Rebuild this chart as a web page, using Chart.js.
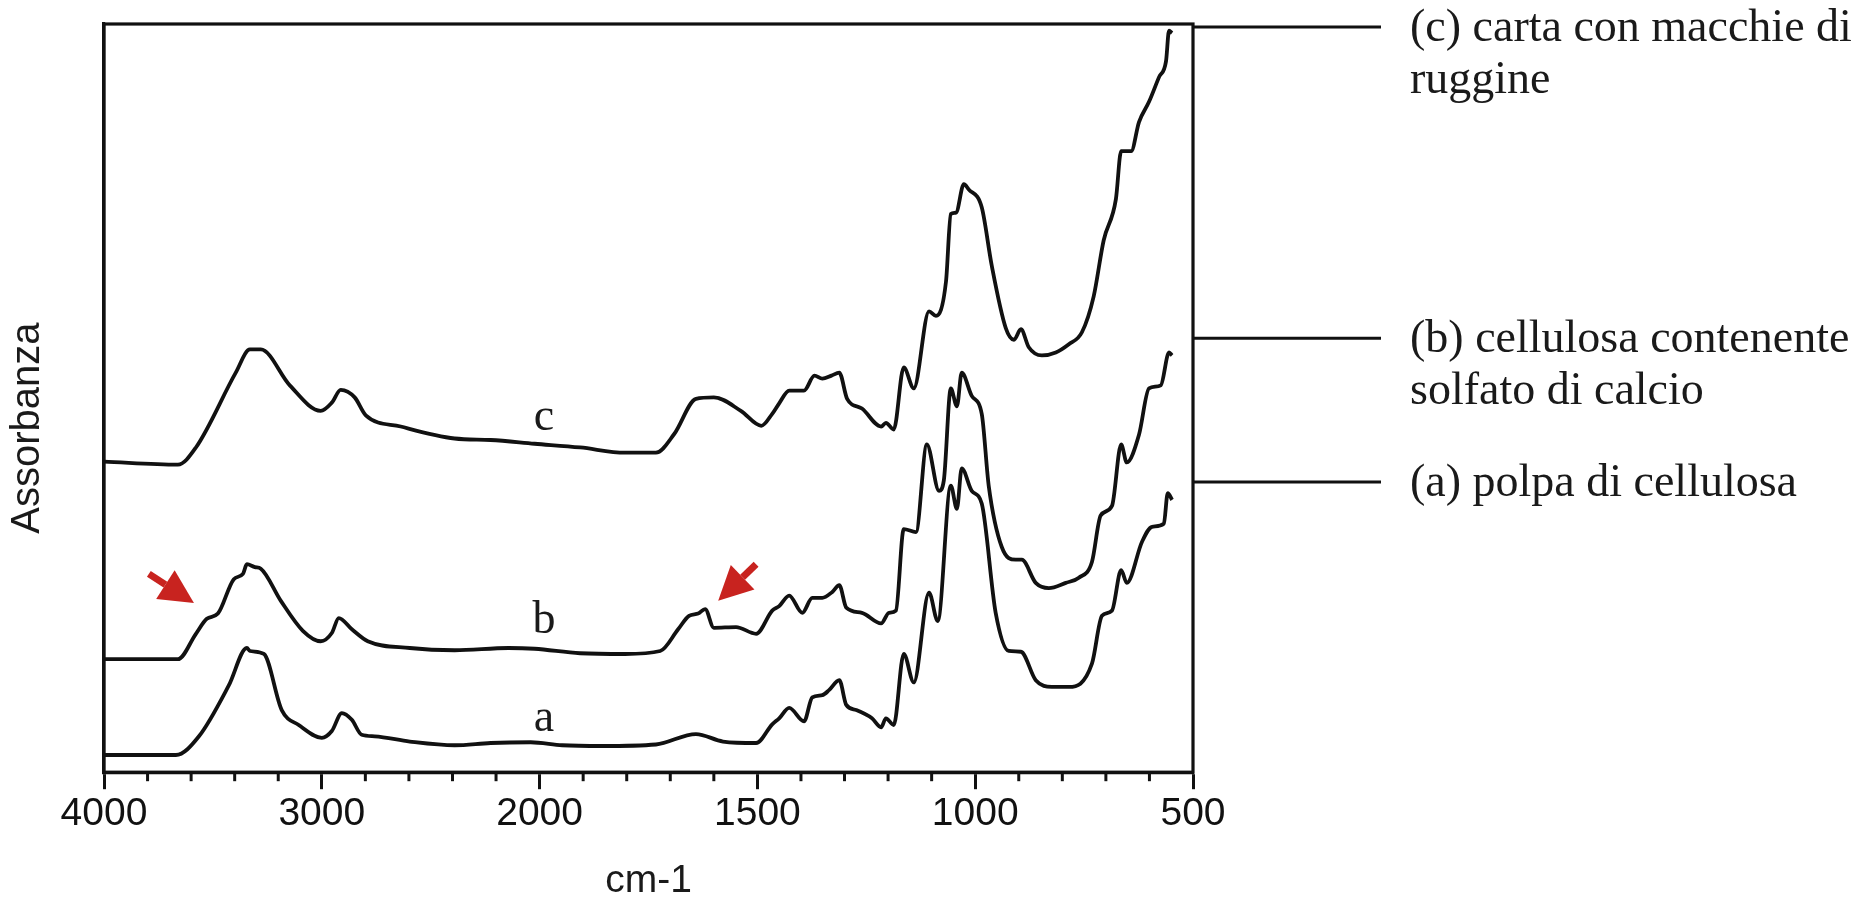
<!DOCTYPE html>
<html>
<head>
<meta charset="utf-8">
<script src="https://cdn.jsdelivr.net/npm/chart.js@4.4.1/dist/chart.umd.min.js"></script>
<style>
  html, body { margin: 0; padding: 0; background: #fff; }
</style>
</head>
<body>
<canvas id="spettri" width="1866" height="902"></canvas>
<script>
// spettri FTIR: numero d'onda (cm-1) e assorbanza (u.a., 0-100)
const numeriOnda_a = [4000, 3670, 3564, 3427, 3344, 3330, 3266, 3184, 3106, 3000, 2954, 2908, 2862, 2817, 2757, 2596, 2390, 2225, 2041, 1948, 1856, 1733, 1641, 1579, 1503, 1466, 1450, 1427, 1393, 1374, 1351, 1335, 1312, 1296, 1273, 1237, 1216, 1205, 1187, 1164, 1141, 1106, 1086, 1056, 1042, 1031, 1008, 985, 953, 923, 895, 861, 824, 785, 732, 709, 686, 665, 652, 617, 594, 567, 558, 548]
const assorbanza_a = [2.3, 2.3, 4.8, 11.6, 16.6, 16.2, 15.8, 8.3, 6.3, 4.6, 5.5, 7.9, 7.0, 5.0, 4.8, 4.1, 3.6, 3.9, 4.0, 3.6, 3.5, 3.7, 5.1, 4.1, 3.9, 6.4, 7.2, 8.6, 6.8, 10.0, 10.3, 11.0, 12.3, 9.0, 8.3, 7.2, 6.0, 7.2, 6.3, 15.8, 12.0, 24.0, 20.2, 38.3, 35.2, 40.6, 37.6, 35.9, 21.3, 16.2, 16.1, 12.3, 11.4, 11.4, 14.5, 20.9, 21.6, 27.0, 25.3, 30.8, 32.8, 33.2, 37.3, 36.4]

const numeriOnda_b = [4000, 3661, 3578, 3528, 3477, 3404, 3362, 3344, 3307, 3280, 3188, 3087, 3005, 2954, 2922, 2862, 2789, 2596, 2390, 2142, 2023, 1907, 1804, 1723, 1682, 1657, 1636, 1620, 1600, 1549, 1503, 1466, 1450, 1427, 1397, 1374, 1351, 1328, 1312, 1296, 1260, 1216, 1198, 1182, 1164, 1136, 1111, 1083, 1072, 1056, 1042, 1031, 1008, 985, 969, 939, 907, 893, 861, 831, 792, 762, 732, 712, 686, 665, 652, 624, 601, 574, 555, 548]
const assorbanza_b = [15.1, 15.1, 18.5, 20.5, 21.2, 25.8, 26.5, 27.8, 27.4, 27.2, 22.9, 18.9, 17.5, 18.6, 20.6, 19.1, 17.5, 16.6, 16.3, 16.6, 16.5, 15.9, 15.8, 16.2, 19.1, 20.9, 21.2, 21.8, 19.3, 19.4, 18.5, 21.6, 22.2, 23.6, 21.3, 23.3, 23.3, 24.1, 25.0, 22.0, 21.3, 19.9, 21.3, 21.6, 32.5, 32.1, 43.8, 37.6, 39.0, 51.3, 48.9, 53.4, 50.3, 47.9, 38.3, 30.1, 28.4, 28.4, 25.3, 24.6, 25.3, 26.0, 28.1, 34.3, 35.6, 43.8, 41.4, 45.1, 51.3, 51.7, 56.1, 55.7]

const numeriOnda_c = [4000, 3661, 3578, 3395, 3330, 3280, 3147, 3005, 2954, 2913, 2849, 2798, 2638, 2390, 2225, 2023, 1907, 1804, 1733, 1691, 1641, 1600, 1538, 1491, 1466, 1450, 1427, 1393, 1369, 1351, 1330, 1312, 1294, 1260, 1216, 1205, 1187, 1164, 1141, 1106, 1090, 1067, 1056, 1044, 1026, 1015, 985, 962, 930, 911, 895, 877, 847, 815, 785, 755, 728, 705, 677, 665, 642, 624, 601, 578, 562, 555, 548]
const assorbanza_c = [41.5, 41.1, 43.4, 53.4, 56.5, 56.5, 51.7, 48.3, 49.4, 51.1, 50.1, 47.7, 46.2, 44.6, 44.4, 43.9, 43.4, 42.7, 42.7, 45.2, 49.9, 50.1, 48.3, 46.3, 47.9, 49.3, 51.0, 51.0, 53.0, 52.6, 53.0, 53.4, 49.9, 48.6, 46.2, 46.7, 45.8, 54.1, 51.3, 61.6, 61.0, 65.6, 74.6, 74.8, 78.6, 77.9, 75.5, 67.7, 59.4, 57.8, 59.2, 56.8, 55.7, 56.1, 57.2, 58.8, 63.6, 71.1, 76.6, 83.0, 83.0, 86.9, 89.6, 92.9, 95.0, 99.1, 98.8]

const tickNumeriOnda = [4000, 3000, 2000, 1500, 1000, 500]

// etichette a destra (c, b, a) e quota in assorbanza della linea di richiamo
const testiEtichette = [['(c) carta con macchie di', 'ruggine'], ['(b) cellulosa contenente', 'solfato di calcio'], ['(a) polpa di cellulosa']]
const quoteEtichette = [99.6, 58.0, 38.8]

// lettere sulle curve: [numero d'onda, assorbanza]
const lettereCurve = ['c', 'b', 'a']
const posLettere = [[1990, 47.4], [1990, 20.2], [1990, 7.1]]

// frecce rosse: coda -> punta
const frecce = [
  {da: [3794, 26.5], a: [3587, 22.6]},
  {da: [1503, 27.8], a: [1590, 22.9]}
]

// asse spezzato: 4000-2000 a 1000 cm-1 per divisione, 2000-500 a 500 cm-1
function versoAsse(w){
  return w >= 2000 ? (4000 - w) / 1000 : 2 + (2000 - w) / 500
}
function daAsse(u){
  return u <= 2 ? 4000 - u * 1000 : 2000 - (u - 2) * 500
}

function punti(wn, ab){
  return wn.map((w, i) => ({x: versoAsse(w), y: ab[i]}))
}

const SANS = "'Liberation Sans', Arial, sans-serif"
const SERIF = "'Liberation Serif', 'Times New Roman', serif"

const decorazioni = {
  id: 'decorazioni',
  afterDraw(chart){
    const ctx = chart.ctx
    const a = chart.chartArea
    const x = chart.scales.x
    const y = chart.scales.y
    ctx.save()

    // cornice
    ctx.strokeStyle = '#111'
    ctx.lineWidth = 3.2
    ctx.strokeRect(a.left, a.top, a.right - a.left, a.bottom - a.top)

    // tacche secondarie
    ctx.lineWidth = 3
    for (let i = 1; i < 25; i++){
      if (i % 5 === 0) continue
      const px = x.getPixelForValue(i / 5)
      ctx.beginPath()
      ctx.moveTo(px, a.bottom)
      ctx.lineTo(px, a.bottom + 9)
      ctx.stroke()
    }

    // titolo asse y
    ctx.fillStyle = '#1a1a1a'
    ctx.font = '40px ' + SANS
    ctx.textAlign = 'center'
    ctx.textBaseline = 'middle'
    ctx.save()
    ctx.translate(28, a.top + (a.bottom - a.top) * 0.54)
    ctx.rotate(-Math.PI / 2)
    ctx.fillText('Assorbanza', 0, 0)
    ctx.restore()

    // lettere sulle curve
    ctx.font = '46px ' + SERIF
    lettereCurve.forEach((l, i) => {
      ctx.fillText(l, x.getPixelForValue(versoAsse(posLettere[i][0])), y.getPixelForValue(posLettere[i][1]))
    })

    // linee di richiamo ed etichette
    ctx.textAlign = 'left'
    ctx.lineWidth = 3
    testiEtichette.forEach((righe, i) => {
      const py = y.getPixelForValue(quoteEtichette[i])
      ctx.beginPath()
      ctx.moveTo(a.right, py)
      ctx.lineTo(a.right + 188, py)
      ctx.stroke()
      righe.forEach((t, j) => ctx.fillText(t, a.right + 217, py + 2 + j * 52))
    })

    // frecce rosse
    ctx.fillStyle = '#c8231f'
    ctx.strokeStyle = '#c8231f'
    frecce.forEach(f => {
      const x0 = x.getPixelForValue(versoAsse(f.da[0])), y0 = y.getPixelForValue(f.da[1])
      const x1 = x.getPixelForValue(versoAsse(f.a[0])), y1 = y.getPixelForValue(f.a[1])
      const ang = Math.atan2(y1 - y0, x1 - x0)
      const lung = 34, semi = 17
      const bx = x1 - lung * Math.cos(ang), by = y1 - lung * Math.sin(ang)
      ctx.lineWidth = 7
      ctx.lineCap = 'butt'
      ctx.beginPath()
      ctx.moveTo(x0, y0)
      ctx.lineTo(bx, by)
      ctx.stroke()
      ctx.beginPath()
      ctx.moveTo(x1, y1)
      ctx.lineTo(bx + semi * Math.sin(ang), by - semi * Math.cos(ang))
      ctx.lineTo(bx - semi * Math.sin(ang), by + semi * Math.cos(ang))
      ctx.closePath()
      ctx.fill()
    })
    ctx.restore()
  }
}

const stileLinea = {
  borderColor: '#111',
  borderWidth: 3.8,
  pointRadius: 0,
  fill: false,
  cubicInterpolationMode: 'monotone'
}

const data = {
  datasets: [
    Object.assign({label: 'c', data: punti(numeriOnda_c, assorbanza_c)}, stileLinea),
    Object.assign({label: 'b', data: punti(numeriOnda_b, assorbanza_b)}, stileLinea),
    Object.assign({label: 'a', data: punti(numeriOnda_a, assorbanza_a)}, stileLinea)
  ]
}

const config = {
  type: 'line',
  data: data,
  options: {
    responsive: false,
    animation: false,
    devicePixelRatio: 1,
    layout: {
      padding: {left: 104, right: 673, top: 24, bottom: 1}
    },
    plugins: {
      legend: {display: false},
      tooltip: {enabled: false}
    },
    scales: {
      x: {
        type: 'linear',
        min: 0,
        max: 5,
        afterBuildTicks: (scale) => {
          scale.ticks = tickNumeriOnda.map(w => ({value: versoAsse(w)}))
        },
        ticks: {
          autoSkip: false,
          maxRotation: 0,
          padding: 2,
          color: '#111',
          font: {family: SANS, size: 39},
          callback: (v) => String(Math.round(daAsse(v)))
        },
        grid: {
          display: true,
          drawOnChartArea: false,
          tickLength: 17,
          tickWidth: 3,
          tickColor: '#111'
        },
        border: {display: true, color: '#111', width: 3.2},
        title: {
          display: true,
          text: 'cm-1',
          color: '#1a1a1a',
          font: {family: SANS, size: 39, lineHeight: 1},
          padding: {top: 22, bottom: 0}
        }
      },
      y: {
        min: 0,
        max: 100,
        ticks: {display: false},
        grid: {display: false, drawTicks: false},
        border: {display: true, color: '#111', width: 3.2}
      }
    }
  },
  plugins: [decorazioni]
}

const grafico = new Chart(document.getElementById('spettri'), config)
</script>
</body>
</html>
